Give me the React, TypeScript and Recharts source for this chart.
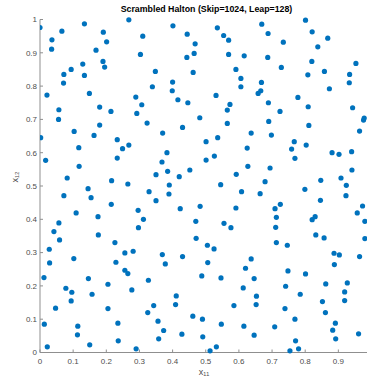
import React from "react";
import { ScatterChart, Scatter, XAxis, YAxis } from "recharts";

// x11 values
const xs: number[] = [
  0.0, 0.066, 0.134, 0.268, 0.036, 0.191, 0.201, 0.31, 0.035, 0.169, 0.303, 0.19, 0.195, 0.129, 0.094, 0.072,
  0.134, 0.071, 0.021, 0.149, 0.289, 0.307, 0.057, 0.18, 0.214, 0.292, 0.056, 0.18,
  0.401, 0.444, 0.535, 0.554, 0.569, 0.468, 0.443, 0.465, 0.569, 0.616, 0.348, 0.462, 0.591, 0.606, 0.339, 0.4,
  0.399, 0.606, 0.531, 0.416, 0.446, 0.573, 0.565, 0.482, 0.323, 0.565, 0.43,
  0.801, 0.669, 0.688, 0.821, 0.868, 0.734, 0.838, 0.687, 0.728, 0.82, 0.953, 0.808, 0.858, 0.934, 0.668, 0.933,
  0.666, 0.658, 0.873, 0.778, 0.689, 0.724, 0.809, 0.943, 0.978, 0.976, 0.69, 0.811,
  0.103, 0.002, 0.163, 0.233, 0.117, 0.249, 0.268, 0.017, 0.233, 0.118, 0.082, 0.216, 0.265, 0.145, 0.072, 0.154,
  0.215, 0.296, 0.109, 0.175, 0.312, 0.057, 0.297, 0.042, 0.176, 0.059,
  0.37, 0.637, 0.501, 0.536, 0.625, 0.383, 0.526, 0.501, 0.368, 0.627, 0.452, 0.385, 0.35, 0.42, 0.592, 0.545,
  0.39, 0.329, 0.389, 0.608, 0.35, 0.483, 0.423, 0.591, 0.47, 0.555, 0.576, 0.471,
  0.698, 0.964, 0.767, 0.759, 0.803, 0.769, 0.881, 0.902, 0.94, 0.694, 0.941, 0.679, 0.847, 0.908, 0.924, 0.799,
  0.664, 0.923, 0.846, 0.725, 0.709, 0.973, 0.957, 0.713, 0.83, 0.821, 0.98, 0.711, 0.832, 0.857, 0.98,
  0.226, 0.028, 0.281, 0.256, 0.029, 0.102, 0.229, 0.012, 0.146, 0.256, 0.265, 0.078, 0.096, 0.205, 0.157, 0.277,
  0.094, 0.047, 0.205, 0.013, 0.114, 0.235, 0.113, 0.236, 0.15, 0.022, 0.29,
  0.505, 0.525, 0.369, 0.43, 0.637, 0.378, 0.506, 0.62, 0.327, 0.488, 0.546, 0.646, 0.613, 0.411, 0.343, 0.409,
  0.585, 0.325, 0.461, 0.49, 0.356, 0.547, 0.615, 0.373, 0.428, 0.491, 0.646, 0.358, 0.532, 0.513,
  0.713, 0.746, 0.887, 0.903, 0.964, 0.888, 0.748, 0.801, 0.741, 0.862, 0.927, 0.919, 0.653, 0.785, 0.652, 0.852,
  0.919, 0.739, 0.861, 0.769, 0.708, 0.891, 0.883, 0.961, 0.892, 0.771, 0.754, 0.78,
];

// x12 values, same order
const ys: number[] = [
  0.976, 0.965, 0.987, 0.999, 0.939, 0.962, 0.933, 0.95, 0.911, 0.908, 0.895, 0.874, 0.857, 0.866, 0.85, 0.835,
  0.832, 0.809, 0.773, 0.778, 0.767, 0.744, 0.729, 0.737, 0.724, 0.718, 0.7, 0.683,
  0.981, 0.956, 0.975, 0.952, 0.938, 0.927, 0.886, 0.898, 0.895, 0.891, 0.844, 0.841, 0.85, 0.823, 0.798, 0.812,
  0.786, 0.798, 0.772, 0.759, 0.75, 0.745, 0.728, 0.705, 0.689, 0.688, 0.676,
  0.998, 0.986, 0.958, 0.963, 0.944, 0.932, 0.918, 0.886, 0.856, 0.874, 0.868, 0.834, 0.844, 0.835, 0.811, 0.81,
  0.786, 0.778, 0.792, 0.766, 0.75, 0.724, 0.738, 0.735, 0.704, 0.698, 0.694, 0.682,
  0.664, 0.645, 0.652, 0.639, 0.615, 0.612, 0.623, 0.577, 0.584, 0.559, 0.524, 0.516, 0.506, 0.492, 0.471, 0.465,
  0.445, 0.427, 0.419, 0.408, 0.4, 0.389, 0.375, 0.363, 0.353, 0.338,
  0.659, 0.659, 0.633, 0.645, 0.614, 0.6, 0.59, 0.578, 0.572, 0.559, 0.548, 0.544, 0.534, 0.528, 0.535, 0.504,
  0.503, 0.483, 0.476, 0.483, 0.456, 0.439, 0.432, 0.434, 0.394, 0.388, 0.375, 0.343,
  0.653, 0.665, 0.633, 0.611, 0.623, 0.583, 0.6, 0.595, 0.603, 0.554, 0.548, 0.513, 0.517, 0.524, 0.502, 0.49,
  0.477, 0.471, 0.457, 0.445, 0.432, 0.44, 0.419, 0.406, 0.408, 0.399, 0.394, 0.376, 0.353, 0.344, 0.342,
  0.33, 0.31, 0.304, 0.299, 0.269, 0.282, 0.271, 0.225, 0.222, 0.247, 0.237, 0.193, 0.181, 0.205, 0.175, 0.188,
  0.155, 0.133, 0.132, 0.085, 0.079, 0.088, 0.053, 0.035, 0.023, 0.017, 0.011,
  0.322, 0.311, 0.294, 0.288, 0.281, 0.266, 0.27, 0.253, 0.217, 0.23, 0.224, 0.222, 0.194, 0.17, 0.141, 0.144,
  0.141, 0.12, 0.109, 0.1, 0.094, 0.085, 0.079, 0.066, 0.055, 0.047, 0.052, 0.041, 0.017, 0.005,
  0.33, 0.322, 0.298, 0.293, 0.288, 0.264, 0.245, 0.236, 0.199, 0.206, 0.209, 0.182, 0.169, 0.175, 0.144, 0.153,
  0.156, 0.132, 0.12, 0.1, 0.077, 0.088, 0.067, 0.056, 0.041, 0.035, 0.005, 0.011,
];

const xTicks = [0, 0.1, 0.2, 0.3, 0.4, 0.5, 0.6, 0.7, 0.8, 0.9];
const yTicks = [0, 0.1, 0.2, 0.3, 0.4, 0.5, 0.6, 0.7, 0.8, 0.9, 1];

const points = xs.map((x, i) => ({ x, y: ys[i] }));

const FONT = "'Liberation Sans', Arial, Helvetica, sans-serif";
const AXIS = "#8f8f8f";
const LABEL = "#4d4d4d";
const DOT = "#0072BD";

const fmt = (v: number) => String(Math.round(v * 10) / 10);

export default function App() {
  return (
    <div
      style={{
        position: "absolute",
        left: 0,
        top: 0,
        width: 367,
        height: 378,
        overflow: "hidden",
        background: "#fff",
        fontFamily: FONT,
      }}
    >
      <ScatterChart width={380} height={378} margin={{ top: 19.5, right: 8.5, bottom: 0, left: 10 }}>
        <XAxis
          type="number"
          dataKey="x"
          domain={[0, 1]}
          ticks={xTicks}
          tickFormatter={fmt}
          height={25.5}
          stroke={AXIS}
          tickSize={-3}
          tickMargin={9}
          tick={{ fill: LABEL, fontSize: 8, fontFamily: FONT }}
          allowDataOverflow
        />
        <YAxis
          type="number"
          dataKey="y"
          domain={[0, 1]}
          ticks={yTicks}
          tickFormatter={fmt}
          width={30}
          stroke={AXIS}
          tickSize={-3}
          tickMargin={6}
          tick={{ fill: LABEL, fontSize: 8, fontFamily: FONT }}
        />
        <Scatter
          data={points}
          isAnimationActive={false}
          shape={(p: any) => <circle cx={p.cx} cy={p.cy} r={2.6} fill={DOT} />}
        />
      </ScatterChart>
      <div
        style={{
          position: "absolute",
          left: 0,
          width: 413,
          top: 4,
          textAlign: "center",
          fontWeight: "bold",
          fontSize: 8.8,
          color: "#000",
        }}
      >
        Scrambled Halton (Skip=1024, Leap=128)
      </div>
      <div
        style={{
          position: "absolute",
          left: 184,
          width: 40,
          top: 367,
          textAlign: "center",
          fontSize: 9,
          color: LABEL,
        }}
      >
        x₁₁
      </div>
      <div
        style={{
          position: "absolute",
          left: -5,
          width: 40,
          top: 172,
          textAlign: "center",
          fontSize: 9,
          color: LABEL,
          transform: "rotate(-90deg)",
        }}
      >
        x₁₂
      </div>
    </div>
  );
}
